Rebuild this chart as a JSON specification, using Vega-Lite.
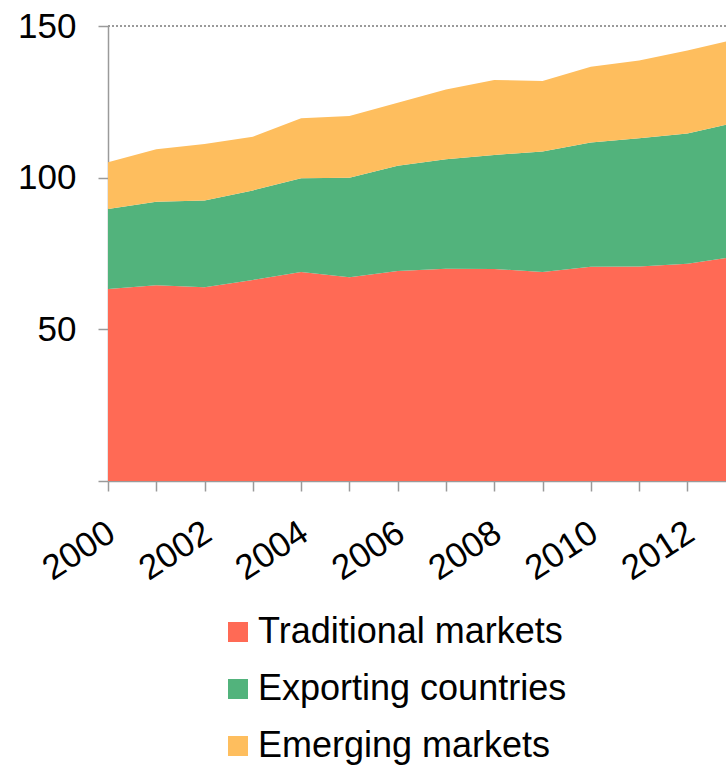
{
  "$schema": "https://vega.github.io/schema/vega-lite/v6.json",
  "width": 618,
  "height": 455,
  "autosize": "none",
  "padding": {"left": 108, "top": 26, "right": 0, "bottom": 287},
  "config": {"view": {"stroke": null}, "font": "Liberation Sans"},
  "data": {
    "values": [
      {"year": 2000, "series": "Traditional markets", "o": 1, "value": 63.3},
      {"year": 2001, "series": "Traditional markets", "o": 1, "value": 64.5},
      {"year": 2002, "series": "Traditional markets", "o": 1, "value": 63.9},
      {"year": 2003, "series": "Traditional markets", "o": 1, "value": 66.3},
      {"year": 2004, "series": "Traditional markets", "o": 1, "value": 68.9},
      {"year": 2005, "series": "Traditional markets", "o": 1, "value": 67.2},
      {"year": 2006, "series": "Traditional markets", "o": 1, "value": 69.2},
      {"year": 2007, "series": "Traditional markets", "o": 1, "value": 70.0},
      {"year": 2008, "series": "Traditional markets", "o": 1, "value": 69.9},
      {"year": 2009, "series": "Traditional markets", "o": 1, "value": 68.9},
      {"year": 2010, "series": "Traditional markets", "o": 1, "value": 70.6},
      {"year": 2011, "series": "Traditional markets", "o": 1, "value": 70.7},
      {"year": 2012, "series": "Traditional markets", "o": 1, "value": 71.6},
      {"year": 2013, "series": "Traditional markets", "o": 1, "value": 74.0},
      {"year": 2000, "series": "Exporting countries", "o": 2, "value": 26.4},
      {"year": 2001, "series": "Exporting countries", "o": 2, "value": 27.6},
      {"year": 2002, "series": "Exporting countries", "o": 2, "value": 28.6},
      {"year": 2003, "series": "Exporting countries", "o": 2, "value": 29.5},
      {"year": 2004, "series": "Exporting countries", "o": 2, "value": 30.9},
      {"year": 2005, "series": "Exporting countries", "o": 2, "value": 32.8},
      {"year": 2006, "series": "Exporting countries", "o": 2, "value": 34.7},
      {"year": 2007, "series": "Exporting countries", "o": 2, "value": 36.1},
      {"year": 2008, "series": "Exporting countries", "o": 2, "value": 37.6},
      {"year": 2009, "series": "Exporting countries", "o": 2, "value": 39.7},
      {"year": 2010, "series": "Exporting countries", "o": 2, "value": 41.0},
      {"year": 2011, "series": "Exporting countries", "o": 2, "value": 42.3},
      {"year": 2012, "series": "Exporting countries", "o": 2, "value": 43.0},
      {"year": 2013, "series": "Exporting countries", "o": 2, "value": 44.2},
      {"year": 2000, "series": "Emerging markets", "o": 3, "value": 15.4},
      {"year": 2001, "series": "Emerging markets", "o": 3, "value": 17.3},
      {"year": 2002, "series": "Emerging markets", "o": 3, "value": 18.6},
      {"year": 2003, "series": "Emerging markets", "o": 3, "value": 17.7},
      {"year": 2004, "series": "Emerging markets", "o": 3, "value": 19.8},
      {"year": 2005, "series": "Emerging markets", "o": 3, "value": 20.3},
      {"year": 2006, "series": "Emerging markets", "o": 3, "value": 20.8},
      {"year": 2007, "series": "Emerging markets", "o": 3, "value": 23.0},
      {"year": 2008, "series": "Emerging markets", "o": 3, "value": 24.7},
      {"year": 2009, "series": "Emerging markets", "o": 3, "value": 23.3},
      {"year": 2010, "series": "Emerging markets", "o": 3, "value": 25.0},
      {"year": 2011, "series": "Emerging markets", "o": 3, "value": 25.6},
      {"year": 2012, "series": "Emerging markets", "o": 3, "value": 27.3},
      {"year": 2013, "series": "Emerging markets", "o": 3, "value": 27.4}
    ]
  },
  "layer": [
    {
      "mark": {"type": "area", "clip": true},
      "encoding": {
        "x": {
          "field": "year",
          "type": "quantitative",
          "scale": {"domain": [2000, 2012.8], "nice": false, "zero": false},
          "axis": {
            "title": null,
            "values": [2000, 2001, 2002, 2003, 2004, 2005, 2006, 2007, 2008, 2009, 2010, 2011, 2012],
            "labelExpr": "datum.value % 2 == 0 ? format(datum.value, 'd') : ''",
            "labelOverlap": false,
            "labelBound": false,
            "labelFlush": false,
            "labelAngle": -33,
            "labelAlign": "right",
            "labelBaseline": "middle",
            "labelPadding": 38,
            "labelOffset": 3,
            "labelFontSize": 35,
            "labelColor": "#000000",
            "tickSize": 10,
            "tickColor": "#9a9a9a",
            "tickWidth": 1.5,
            "domainColor": "#9a9a9a",
            "domainWidth": 1.5,
            "grid": false
          }
        },
        "y": {
          "field": "value",
          "type": "quantitative",
          "stack": "zero",
          "scale": {"domain": [0, 150], "nice": false},
          "axis": {
            "title": null,
            "values": [0, 50, 100, 150],
            "labelExpr": "datum.value == 0 ? '' : datum.label",
            "labelFontSize": 35,
            "labelColor": "#000000",
            "labelPadding": 22,
            "tickSize": 10,
            "tickColor": "#9a9a9a",
            "tickWidth": 1.5,
            "domainColor": "#9a9a9a",
            "domainWidth": 1.5,
            "grid": false
          }
        },
        "color": {
          "field": "series",
          "type": "nominal",
          "scale": {
            "domain": ["Traditional markets", "Exporting countries", "Emerging markets"],
            "range": ["#FF6A55", "#52B37C", "#FEBE5E"]
          },
          "legend": {
            "title": null,
            "orient": "none",
            "legendX": 112,
            "legendY": 588,
            "direction": "vertical",
            "symbolType": "square",
            "symbolSize": 400,
            "symbolStrokeWidth": 0,
            "labelFontSize": 36,
            "labelColor": "#000000",
            "labelOffset": 2,
            "rowPadding": 21,
            "labelLimit": 500
          }
        },
        "order": {"field": "o", "type": "quantitative"}
      }
    },
    {
      "mark": {"type": "rule", "strokeDash": [2, 2], "color": "#9a9a9a", "strokeWidth": 1},
      "encoding": {"y": {"datum": 150}}
    }
  ]
}
